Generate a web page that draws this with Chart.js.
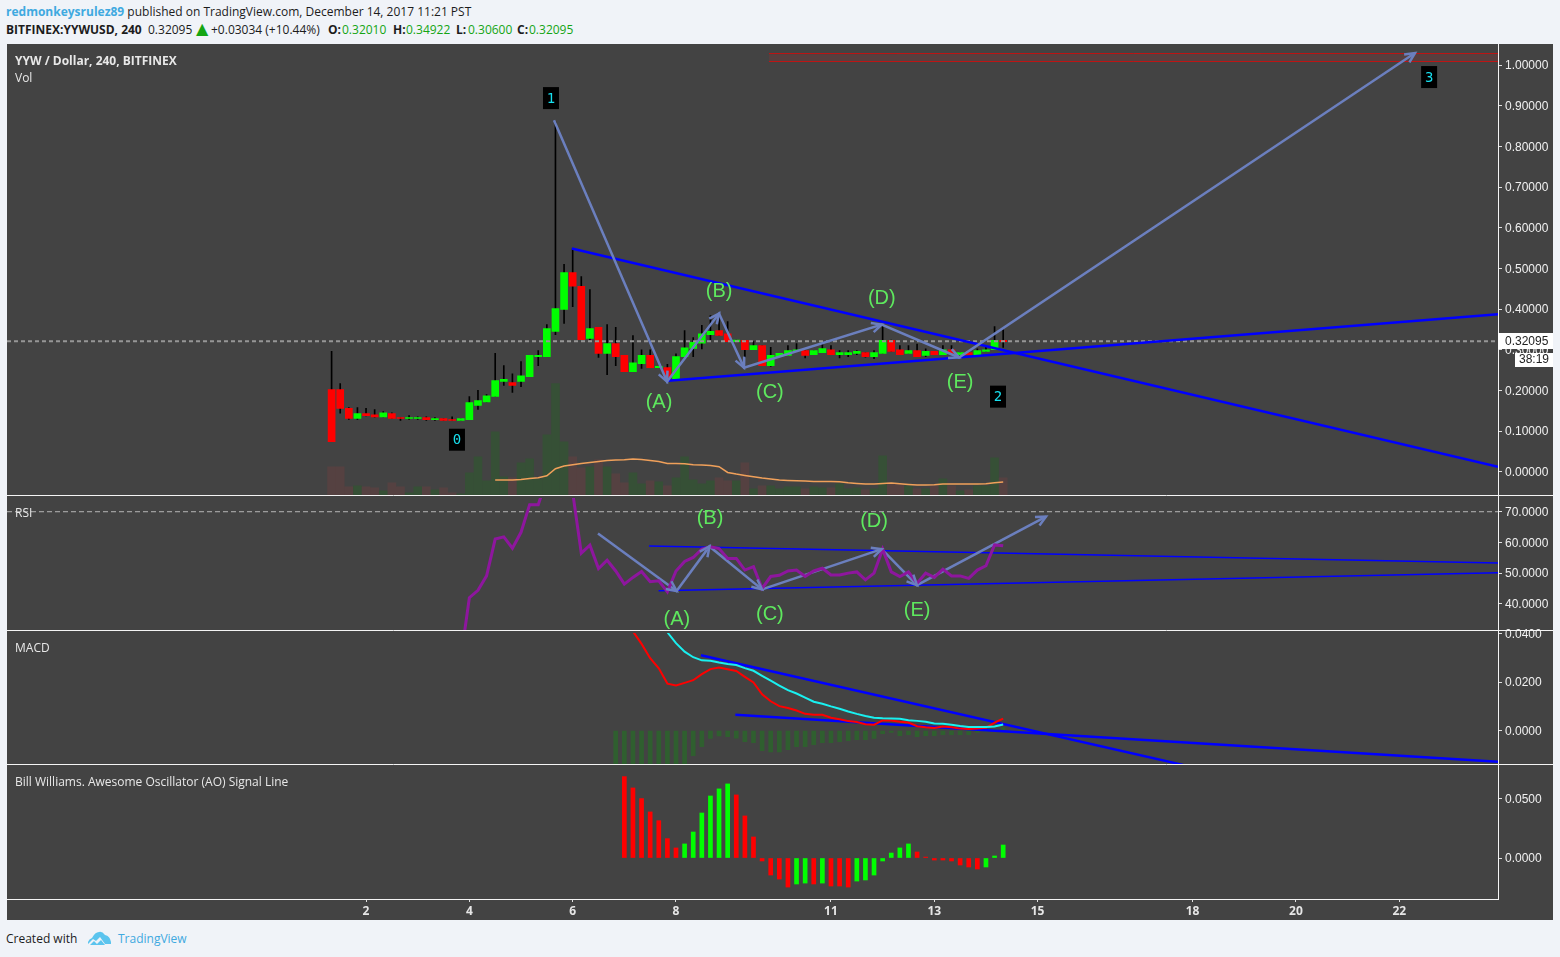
<!DOCTYPE html>
<html><head><meta charset="utf-8">
<script src="https://cdn.jsdelivr.net/npm/chart.js@4"></script>
<style>
html,body{margin:0;padding:0;background:#f0f3f8;width:1560px;height:957px;overflow:hidden;font-family:"Open Sans",sans-serif;}
.t{position:absolute;white-space:nowrap;font-size:12px;line-height:16px;color:#1c1c1c;}
.w{color:#e8e8e8}
.b{font-weight:700}
.g{color:#14a514}
.l{color:#3fa9e0}
canvas{position:absolute;left:7px;top:44px;background:#434343;}
</style></head><body>
<div class="t" style="left:6px;top:4px"><span class="l b">redmonkeysrulez89</span> published on TradingView.com, December 14, 2017 11:21 PST</div>
<div class="t b" style="left:6px;top:22px">BITFINEX:YYWUSD, 240</div>
<div class="t" style="left:148px;top:22px">0.32095</div>
<div class="t g" style="left:196px;top:21px;font-size:16px;font-family:'DejaVu Sans'">▲</div>
<div class="t" style="left:211px;top:22px">+0.03034 (+10.44%)</div>
<div class="t b" style="left:328px;top:22px">O:</div><div class="t g" style="left:342px;top:22px">0.32010</div>
<div class="t b" style="left:393px;top:22px">H:</div><div class="t g" style="left:406px;top:22px">0.34922</div>
<div class="t b" style="left:456px;top:22px">L:</div><div class="t g" style="left:468px;top:22px">0.30600</div>
<div class="t b" style="left:517px;top:22px">C:</div><div class="t g" style="left:529px;top:22px">0.32095</div>
<canvas id="c" width="1546" height="876"></canvas>
<div class="t w b" style="left:15px;top:53px">YYW / Dollar, 240, BITFINEX</div>
<div class="t w" style="left:15px;top:70px">Vol</div>
<div class="t w" style="left:15px;top:505px">RSI</div>
<div class="t w" style="left:15px;top:640px">MACD</div>
<div class="t w" style="left:15px;top:774px">Bill Williams. Awesome Oscillator (AO) Signal Line</div>
<div class="t" style="left:6px;top:931px">Created with</div>
<svg style="position:absolute;left:87px;top:930px" width="25" height="16" viewBox="0 0 25 16"><path d="M1 14 L1 12 Q2 9 5 8 Q8 2 12 2 Q15 1 18 5 Q23 6 24 12 L24 14 L18 14 L13 7 L9 11 L6 9 Z" fill="#5bc4ee"/><path d="M3 15 L7 11 L10 14 L14 10 L18 15 Z" fill="#5bc4ee"/></svg>
<div class="t l" style="left:118px;top:931px;font-size:12px">TradingView</div>
<script>
const open_ = [.202,.202,.156,.131,.143,.140,.135,.143,.133,.131,.131,.133,.128,.131,.128,.126,.128,.163,.172,.185,.222,.219,.222,.234,.283,.283,.345,.399,.490,.456,.328,.355,.291,.315,.286,.246,.266,.286,.256,.256,.229,.283,.303,.316,.337,.347,.339,.320,.323,.300,.310,.261,.283,.286,.298,.298,.288,.293,.300,.288,.288,.291,.293,.283,.291,.323,.300,.291,.298,.286,.296,.288,.300,.288,.293,.288,.296,.300,.323];
const close_ = [.074,.156,.131,.143,.138,.135,.145,.131,.131,.133,.133,.128,.131,.126,.126,.131,.170,.175,.187,.224,.227,.212,.236,.286,.286,.352,.401,.490,.456,.325,.352,.291,.315,.283,.246,.268,.286,.256,.259,.232,.283,.305,.318,.339,.345,.335,.320,.324,.300,.310,.261,.286,.291,.298,.299,.286,.298,.303,.288,.293,.293,.296,.283,.293,.323,.296,.288,.298,.283,.296,.288,.300,.291,.293,.288,.298,.300,.323,.320];
const high_ = [.296,.217,.158,.158,.156,.153,.148,.145,.133,.138,.135,.135,.133,.131,.135,.131,.185,.200,.190,.291,.261,.241,.271,.286,.298,.362,.860,.510,.548,.480,.448,.355,.362,.355,.286,.335,.300,.300,.259,.264,.290,.347,.330,.360,.384,.384,.369,.324,.323,.320,.310,.306,.291,.310,.315,.298,.298,.313,.310,.298,.298,.298,.293,.298,.360,.324,.310,.310,.314,.302,.296,.310,.310,.293,.298,.302,.306,.357,.349];
const low_ = [.074,.144,.129,.129,.137,.134,.135,.131,.126,.129,.129,.126,.126,.126,.126,.126,.128,.153,.172,.185,.212,.195,.209,.234,.261,.283,.337,.365,.406,.325,.325,.281,.239,.261,.246,.246,.254,.256,.256,.224,.229,.283,.283,.302,.324,.335,.320,.320,.282,.300,.261,.259,.283,.286,.298,.280,.288,.293,.288,.280,.283,.288,.282,.278,.291,.296,.288,.291,.283,.283,.288,.288,.291,.287,.288,.288,.296,.300,.306];
const volume = [29,29,9,10,9,8,5,13,9,3,9,9,6,8,3,2,23,39,15,64,19,18,33,37,17,61,112,54,39,28,29,36,29,22,13,23,12,15,14,10,18,39,16,12,15,18,15,15,33,7,10,10,7,9,9,7,9,8,8,12,7,8,6,7,40,12,12,10,7,7,10,17,10,5,6,10,10,38,18];
const volumeMAStart = 19;
const volumeMA = [15.7,15.7,15.7,16.3,17.3,18,20,27,29.7,31,32.3,33.3,34.3,35.3,35.7,36,36.7,36.3,35.3,34.3,32.3,32.3,32,31,30.7,30.3,29,23.3,21.7,20.3,19,17.7,16.7,15.7,15.3,15,14.7,14.3,14.3,14.3,14,13,12.3,11.7,11.7,12.3,12.7,12,11.3,10.7,10.7,11,11.7,11.7,11.7,11.7,11.7,12,13,13.7];
const rsiStart = 15;
const rsi = [22,42,44.4,49.1,61.1,61.8,58.1,63.3,72.3,72.3,80.7,88,90,76.3,56.5,59.1,51.5,54.2,50.7,46.4,48.6,50.5,47.2,47.5,43.9,50.7,53.8,55.1,57.8,58.6,58,54.8,54.8,51,52.1,45,48.9,49.3,50.7,51,48.9,50.7,51.6,49.4,49.4,50,50.4,47.8,50,57.8,50.4,48.9,50.4,46.7,50,48.6,51.3,49.1,49.1,48.3,51,52.4,59.2,58.9];
const macdRedStart = 34;
const macdRed = [.0465,.041,.0358,.0299,.0257,.0194,.0186,.0197,.0208,.0233,.0254,.026,.0253,.0246,.0222,.0199,.015,.0121,.0101,.0093,.0083,.0069,.0065,.0065,.0053,.0047,.0039,.0035,.0026,.0024,.0042,.0042,.0036,.0033,.0018,.0014,.0011,.0017,.0014,.0008,.0006,.0008,.0011,.0033,.0049];
const macdCyanStart = 38;
const macdCyan = [.047,.0406,.0361,.0326,.0303,.029,.0288,.0281,.0275,.0271,.0258,.0247,.0226,.0206,.0186,.0167,.0153,.0136,.0119,.0111,.01,.009,.0079,.0069,.006,.0053,.0051,.005,.0049,.0043,.004,.0036,.0029,.0028,.0024,.0019,.0015,.0015,.0015,.0017,.0025];
const macdHistStart = 33;
const macdHist = [-.02,-.02,-.02,-.02,-.02,-.02,-.02,-.02,-.02,-.0104,-.0067,-.0032,-.0022,-.0025,-.0031,-.0046,-.005,-.0083,-.0088,-.0088,-.0079,-.0067,-.0067,-.0058,-.005,-.005,-.0046,-.0042,-.0038,-.0038,-.0033,-.0013,-.0008,-.0021,-.0017,-.0025,-.0021,-.0021,-.0017,-.0017,-.0017,-.0017,-.0008,-.0004,.0004,.0012];
const aoStart = 34;
const ao = [.0689,.0593,.0503,.039,.0316,.0164,.0085,.0119,.022,.0381,.0525,.0585,.0627,.0534,.0356,.0178,-.0025,-.0144,-.0178,-.0246,-.022,-.0212,-.022,-.0212,-.0237,-.0237,-.0246,-.0195,-.0186,-.0144,-.0025,.0042,.0085,.0119,.0051,.0008,-.0017,-.0017,-.0025,-.0059,-.0076,-.0093,-.0076,.0017,.011];
const aoUp = [0,0,0,0,0,0,0,1,1,1,1,1,1,0,0,0,0,0,0,0,1,1,0,1,0,0,0,1,1,1,1,1,1,1,0,0,0,0,0,0,0,0,1,1,1];

const dayTickIndex = [4,16,28,40,58,70,82,100,112,124];
const dayTickLabels = ["2","4","6","8","11","13","15","18","20","22"];
const priceTicks = [0,.1,.2,.3,.4,.5,.6,.7,.8,.9,1];
const rsiTicks = [40,50,60,70];
const macdTicks = [0,.02,.04];
const aoTicks = [0,.05];

const lastPrice = 0.32095;
const xMin = -37.7, xMax = 135.47;

const trendX1 = [27.9,135.47], trendY1 = [.549,.012];
const trendX2 = [39.07,135.47], trendY2 = [.224,.387];
const rsiTrendX1 = [36.86,135.47], rsiTrendY1 = [58.8,53.3];
const rsiTrendX2 = [37.98,135.47], rsiTrendY2 = [44.3,50.1];
const macdTrendX1 = [42.9,98.9], macdTrendY1 = [.0311,-.0142];
const macdTrendX2 = [46.89,135.47], macdTrendY2 = [.0065,-.0129];
const arrowX = [25.83,38.96,45,47.9,63.89,72.87,125.83];
const arrowY = [.8645,.2217,.389,.256,.362,.281,1.0296];
const rsiArrowX = [30.94,40.07,43.89,49.99,63.89,67.98,82.97];
const rsiArrowY = [62.9,44.2,58.7,44.7,57.8,46.1,68.4];
const zoneX = [50.8,135.47], zoneTop = 1.0283, zoneBottom = 1.0086;

const waveLabels = ["(A)","(B)","(C)","(D)","(E)"];
const waveX = [38.03,45,50.9,63.9,73];
const waveY = [.1724,.4458,.197,.4286,.2217];
const rsiWaveX = [40.1,43.95,50.9,63,68];
const rsiWaveY = [35.36,68.04,37,67.06,38.3];
const badgeLabels = ["0","1","2","3"];
const badgeX = [14.56,25.48,77.4,127.47];
const badgeY = [.0788,.9187,.1847,.9704];

const GREEN='#00ff00', RED='#ff0000', ARROW='rgb(107,127,190)', BLUE='#0000ff', WAVE='#5ee85e';
const pts=(xs,ys)=>xs.map((x,i)=>({x,y:ys[i]}));
const series=(start,vals)=>vals.map((y,i)=>({x:start+i,y}));
const lineDs=(data,yAxisID,color,width,order,extra)=>Object.assign({type:'line',data,yAxisID,xAxisID:'x',borderColor:color,borderWidth:width,pointRadius:0,tension:0,fill:false,order},extra||{});
const barDs=(data,yAxisID,colors,thick,order)=>({type:'bar',data,yAxisID,xAxisID:'x',backgroundColor:colors,borderWidth:0,barThickness:thick,stack:'one',order});
const idx=open_.map((_,i)=>i);
const up=idx.map(i=>close_[i]>=open_[i]);

function yAxis(id,min,max,weight,ticks,digits){
  return {type:'linear',position:'right',stack:'panes',stackWeight:weight,min,max,stacked:false,
    afterBuildTicks:s=>{s.ticks=ticks.map(v=>({value:v}));},
    afterFit:s=>{s.width=55;s.paddingTop=0;s.paddingBottom=0;},
    grid:{display:true,drawOnChartArea:false,drawTicks:true,tickLength:4,tickColor:'#e0e0e0'},
    border:{display:true,color:'#f4f4f4',width:1},
    ticks:{autoSkip:false,padding:3,labelOffset:1,color:'#f0f0f0',font:{family:'"Liberation Sans"',size:12},callback:v=>Number(v).toFixed(digits)}};
}

const overlay={id:'overlay',
  afterLayout(chart){
    const p=chart.scales.price, v=chart.scales.vol;
    v.top=p.top;v.bottom=p.bottom;v.height=p.height;v.configure();
  },
  afterDatasetsDraw(chart){
    const c=chart.ctx,X=chart.scales.x,P=chart.scales.price,R=chart.scales.rsi;
    const heads=(xs,ys,S)=>{
      c.save();c.strokeStyle=ARROW;c.lineWidth=2.5;
      for(let i=1;i<xs.length;i++){
        const x0=X.getPixelForValue(xs[i-1]),y0=S.getPixelForValue(ys[i-1]),x1=X.getPixelForValue(xs[i]),y1=S.getPixelForValue(ys[i]);
        const a=Math.atan2(y1-y0,x1-x0);
        c.beginPath();
        c.moveTo(x1-11*Math.cos(a-.45),y1-11*Math.sin(a-.45));
        c.lineTo(x1,y1);
        c.lineTo(x1-11*Math.cos(a+.45),y1-11*Math.sin(a+.45));
        c.stroke();
      }
      c.restore();
    };
    heads(arrowX,arrowY,P);heads(rsiArrowX,rsiArrowY,R);
    c.save();c.textAlign='center';c.textBaseline='middle';
    c.font='20px "Liberation Sans"';c.fillStyle=WAVE;
    waveLabels.forEach((t,i)=>{
      c.fillText(t,X.getPixelForValue(waveX[i]),P.getPixelForValue(waveY[i])+1);
      c.fillText(t,X.getPixelForValue(rsiWaveX[i]),R.getPixelForValue(rsiWaveY[i])+1);
    });
    c.font='14px "DejaVu Sans Mono"';
    badgeLabels.forEach((t,i)=>{
      const x=X.getPixelForValue(badgeX[i]),y=P.getPixelForValue(badgeY[i]);
      c.fillStyle='#000';c.fillRect(x-8,y-11,16,22);
      c.fillStyle='#17dfee';c.fillText(t,x,y+1);
    });
    c.restore();
  },
  afterDraw(chart){
    const c=chart.ctx,P=chart.scales.price,R=chart.scales.rsi,M=chart.scales.macd;
    c.save();c.fillStyle='#434343';
    [P.bottom,R.bottom,M.bottom].forEach(y=>{c.fillRect(0,Math.round(y)-1,chart.chartArea.right,3);});
    c.strokeStyle='#f4f4f4';c.lineWidth=1;
    [P.bottom,R.bottom,M.bottom].forEach(y=>{const yy=Math.round(y)-.5;c.beginPath();c.moveTo(0,yy);c.lineTo(chart.width,yy);c.stroke();});
    const right=chart.chartArea.right, y=P.getPixelForValue(lastPrice);
    c.fillStyle='#fff';c.fillRect(right,Math.round(y)-8,55,16);
    c.fillRect(right+17,Math.round(y)+12,38,14);
    c.fillStyle='#222';c.textAlign='left';c.textBaseline='middle';c.font='12px "Liberation Sans"';
    c.fillText(lastPrice.toFixed(5),right+7,Math.round(y)+1);
    c.textAlign='center';
    c.fillText('38:19',right+36,Math.round(y)+19);
    c.restore();
  }
};

new Chart(document.getElementById('c'),{
  type:'bar',
  plugins:[overlay],
  data:{datasets:[
    barDs(idx.map(i=>({x:i,y:volume[i]})),'vol',idx.map(i=>up[i]?'rgba(0,130,0,.2)':'rgba(150,60,60,.22)'),8,100),
    lineDs(series(volumeMAStart,volumeMA),'vol','#f0a05a',1.5,95),
    lineDs(pts(zoneX,[zoneBottom,zoneBottom]),'price','rgb(190,20,20)',1,92),
    lineDs(pts(zoneX,[zoneTop,zoneTop]),'price','rgb(190,20,20)',1,91,{fill:'-1',backgroundColor:'rgba(200,40,40,.15)'}),
    barDs(idx.map(i=>({x:i,y:[low_[i],high_[i]]})),'price','#000',1,90),
    barDs(idx.map(i=>({x:i,y:[open_[i],Math.abs(close_[i]-open_[i])<.002?open_[i]+(up[i]?.002:-.002):close_[i]]})),'price',idx.map(i=>up[i]?GREEN:RED),7,80),
    lineDs(pts([xMin,xMax],[lastPrice,lastPrice]),'price','rgb(150,150,150)',2,70,{borderDash:[4,3]}),
    lineDs(pts(trendX1,trendY1),'price',BLUE,2.5,60),
    lineDs(pts(trendX2,trendY2),'price',BLUE,2.5,60),
    lineDs(pts(arrowX,arrowY),'price',ARROW,2.5,50),
    lineDs(pts([xMin,xMax],[70,70]),'rsi','#b5b5b5',1,70,{borderDash:[5,3]}),
    lineDs(pts(rsiTrendX1,rsiTrendY1),'rsi',BLUE,1.5,60),
    lineDs(pts(rsiTrendX2,rsiTrendY2),'rsi',BLUE,1.5,60),
    lineDs(series(rsiStart,rsi),'rsi','#8e169e',3,45),
    lineDs(pts(rsiArrowX,rsiArrowY),'rsi',ARROW,2.5,50),
    barDs(series(macdHistStart,macdHist),'macd','#2f5f2f',4,90),
    lineDs(pts(macdTrendX1,macdTrendY1),'macd',BLUE,2.5,60),
    lineDs(pts(macdTrendX2,macdTrendY2),'macd',BLUE,2.5,60),
    lineDs(series(macdRedStart,macdRed),'macd',RED,2,55),
    lineDs(series(macdCyanStart,macdCyan),'macd','#19f0f0',2,54),
    barDs(series(aoStart,ao),'ao',aoUp.map(u=>u?GREEN:RED),4,90)
  ]},
  options:{
    responsive:false,animation:false,devicePixelRatio:1,
    layout:{padding:0,autoPadding:false},
    plugins:{legend:{display:false},tooltip:{enabled:false},title:{display:false}},
    scales:{
      x:{type:'linear',position:'bottom',min:xMin,max:xMax,offset:false,
        afterBuildTicks:s=>{s.ticks=dayTickIndex.map(v=>({value:v}));},
        afterFit:s=>{s.height=21;s.paddingLeft=0;s.paddingRight=0;},
        grid:{display:true,offset:false,drawOnChartArea:false,drawTicks:true,tickLength:3,tickColor:'#e0e0e0'},
        border:{display:true,color:'#f4f4f4'},
        ticks:{autoSkip:false,maxRotation:0,padding:2,color:'#e6e6e6',font:{family:'"Open Sans"',size:12,weight:'bold'},
          callback:v=>dayTickLabels[dayTickIndex.indexOf(v)]}},
      price:yAxis('price',-.059,1.0517,451.5,priceTicks,5),
      rsi:yAxis('rsi',31.2,75.2,135,rsiTicks,4),
      macd:yAxis('macd',-.0142,.0412,134,macdTicks,4),
      ao:yAxis('ao',-.0347,.0788,134,aoTicks,4),
      vol:{type:'linear',position:'right',display:false,min:0,max:451.5,stacked:false}
    }
  }
});
</script>
</body></html>
